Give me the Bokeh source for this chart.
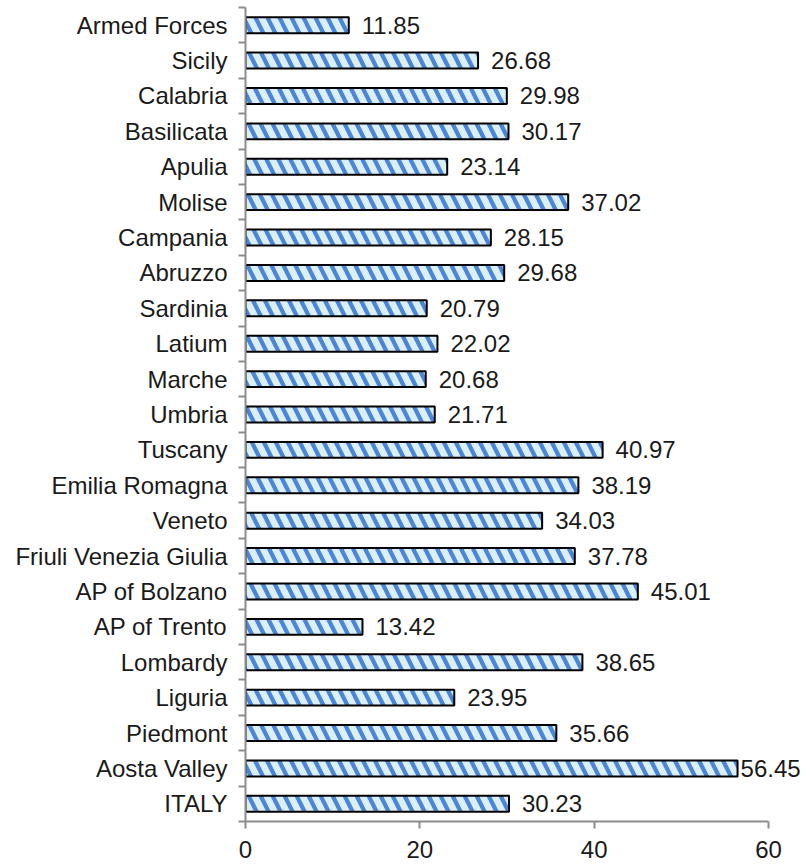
from bokeh.plotting import figure
from bokeh.models import ColumnDataSource, FixedTicker, Range1d, LabelSet
from bokeh.core.properties import value
from bokeh.embed import file_html
from bokeh.resources import INLINE

regions = ["ITALY", "Aosta Valley", "Piedmont", "Liguria", "Lombardy", "AP of Trento",
           "AP of Bolzano", "Friuli Venezia Giulia", "Veneto", "Emilia Romagna", "Tuscany",
           "Umbria", "Marche", "Latium", "Sardinia", "Abruzzo", "Campania", "Molise",
           "Apulia", "Basilicata", "Calabria", "Sicily", "Armed Forces"]
values = [30.23, 56.45, 35.66, 23.95, 38.65, 13.42, 45.01, 37.78, 34.03, 38.19, 40.97,
          21.71, 20.68, 22.02, 20.79, 29.68, 28.15, 37.02, 23.14, 30.17, 29.98, 26.68, 11.85]
x_ticks = [0, 20, 40, 60]
axis_max = 60

n = len(regions)
pos = list(range(n))
labels = ["%.2f" % v for v in values]
offsets = [3 if v > 55 else 13 for v in values]

src = ColumnDataSource(dict(y=pos, v=values, lab=labels, off=offsets))

FONT = "Liberation Sans"
FS = "24px"
W, H = 808, 866
left, top, bottom = 245, 7, 45
frame_w = W - left
px_per_unit = 523 / axis_max
p = figure(width=W, height=H, output_backend="svg", toolbar_location=None,
           x_range=Range1d(0, frame_w / px_per_unit), y_range=Range1d(-0.5, n - 0.5))
p.min_border_left = left
p.min_border_right = 0
p.min_border_top = top
p.min_border_bottom = bottom
p.outline_line_color = None
p.xgrid.grid_line_color = None
p.ygrid.grid_line_color = None

p.hbar(y="y", right="v", left=0, height=0.45, source=src,
       fill_color="#DCEEF8", line_color="black", line_width=2,
       hatch_pattern="\\", hatch_color="#4A86D8", hatch_weight=4.2, hatch_scale=24)

lbl = LabelSet(x="v", y="y", text="lab", source=src, x_offset="off",
               text_baseline="middle", text_align="left",
               text_font=value(FONT), text_font_size=FS, text_color="#1a1a1a")
p.add_layout(lbl)

# x axis
p.xaxis.ticker = FixedTicker(ticks=x_ticks)
p.xaxis.bounds = (0, axis_max)
p.xaxis.axis_line_color = "#8c8c8c"
p.xaxis.axis_line_width = 2
p.xaxis.major_tick_line_color = "#8c8c8c"
p.xaxis.major_tick_line_width = 2
p.xaxis.major_tick_in = 0
p.xaxis.major_tick_out = 7
p.xaxis.minor_tick_line_color = None
p.xaxis.major_label_text_font = FONT
p.xaxis.major_label_text_font_size = FS
p.xaxis.major_label_text_color = "#1a1a1a"
p.xaxis.major_label_standoff = 12

# y axis: labels at centers, ticks at boundaries (minor)
p.yaxis.ticker = FixedTicker(ticks=pos, minor_ticks=[i - 0.5 for i in range(n + 1)])
p.yaxis.major_label_overrides = {i: r for i, r in zip(pos, regions)}
p.yaxis.axis_line_color = "#8c8c8c"
p.yaxis.axis_line_width = 2
p.yaxis.major_tick_line_color = None
p.yaxis.major_tick_in = 0
p.yaxis.major_tick_out = 0
p.yaxis.minor_tick_line_color = "#8c8c8c"
p.yaxis.minor_tick_line_width = 2
p.yaxis.minor_tick_in = 0
p.yaxis.minor_tick_out = 7
p.yaxis.major_label_text_font = FONT
p.yaxis.major_label_text_font_size = FS
p.yaxis.major_label_text_color = "#1a1a1a"
p.yaxis.major_label_standoff = 11

open("out.html", "w").write(file_html(p, INLINE))
